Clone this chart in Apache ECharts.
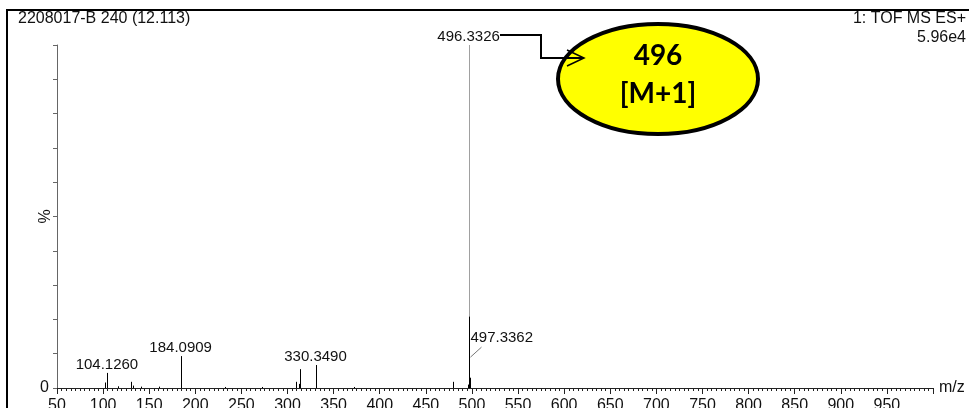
<!DOCTYPE html>
<html><head><meta charset="utf-8">
<script src="https://cdn.jsdelivr.net/npm/echarts@6/dist/echarts.min.js"></script>
<style>html,body{margin:0;padding:0;background:#fff}#c{width:969px;height:408px}</style>
</head><body><div id="c"></div>
<script>
// ---- data ----
const mzValues        = [102.0, 104.1260, 116.0, 130.1, 132.2, 141.0, 160.1, 184.0909, 232.0, 272.0, 309.6, 312.3, 313.3, 330.3490, 372.0, 479.3, 495.3, 496.3326, 496.7, 497.3362, 498.34];
const intensityValues = [1.6,   4.4,      0.5,   1.8,   0.7,   0.4,   0.4,   9.3,      0.3,   0.3,   1.8,   1.2,   5.5,   6.7,      0.3,   1.8,   1.0,   100,      20.8,  9.0,      3.0];
const labelledMz      = [104.1260, 184.0909, 330.3490, 496.3326, 497.3362];
const headerLeft      = '2208017-B 240 (12.113)';
const headerRight     = ['1: TOF MS ES+', '5.96e4'];
const calloutText     = ['496', '[M+1]'];
const xAxisTitle      = 'm/z';
const yAxisTitle      = '%';

const peakData = mzValues.map((m, i) => [m, intensityValues[i]]);
const labelData = labelledMz.map(m => [m, intensityValues[mzValues.indexOf(m)]]);
const basePeak = Math.max(...intensityValues);

const chart = echarts.init(document.getElementById('c'));
const font = '"Liberation Sans", Arial, sans-serif';

chart.setOption({
  animation: false,
  backgroundColor: '#fff',
  grid: {left: 57, right: 36, top: 45, bottom: 20, containLabel: false, outerBoundsMode: 'none'},
  xAxis: {
    type: 'value', min: 50, max: 1000, interval: 50,
    name: xAxisTitle, nameLocation: 'end', nameGap: 6, nameMoveOverlap: false,
    nameTextStyle: {fontFamily: font, fontSize: 16, color: '#111', verticalAlign: 'middle'},
    axisLine: {lineStyle: {color: '#222', width: 1}},
    axisTick: {show: true, length: 6, lineStyle: {color: '#222'}},
    minorTick: {show: true, splitNumber: 10, length: 3, lineStyle: {color: '#222'}},
    splitLine: {show: false},
    axisLabel: {fontFamily: font, fontSize: 16, color: '#111', margin: 10, showMaxLabel: false, hideOverlap: false,
      formatter: v => v >= 1000 ? '' : String(v)}
  },
  yAxis: {
    type: 'value', min: 0, max: 100, interval: 10,
    name: yAxisTitle, nameLocation: 'middle', nameRotate: 90, nameGap: 3, nameMoveOverlap: false,
    nameTextStyle: {fontFamily: font, fontSize: 16, color: '#111'},
    axisLine: {show: true, lineStyle: {color: '#666', width: 1}},
    axisTick: {show: true, length: 4, lineStyle: {color: '#666'}},
    splitLine: {show: false},
    axisLabel: {fontFamily: font, fontSize: 16, color: '#111', margin: 8,
      formatter: v => v === 0 ? '0' : ''}
  },
  series: [
    {
      type: 'custom', data: peakData, clip: false,
      renderItem(params, api) {
        const x = api.value(0), y = api.value(1);
        const p0 = api.coord([x, 0]), p1 = api.coord([x, y]);
        const px = Math.round(p0[0]) + 0.5;
        return {type: 'line', shape: {x1: px, y1: p0[1], x2: px, y2: p1[1]},
          style: {stroke: y === basePeak ? '#a0a0a0' : '#000', lineWidth: 1}};
      }
    },
    {
      type: 'custom', data: labelData, clip: false,
      renderItem(params, api) {
        const x = api.value(0), y = api.value(1);
        const p = api.coord([x, y]);
        const txt = x.toFixed(4);
        if (params.dataIndex === labelData.length - 1) {
          return {type: 'group', children: [
            {type: 'line', shape: {x1: p[0] + 1, y1: p[1], x2: p[0] + 12, y2: p[1] - 10},
              style: {stroke: '#777', lineWidth: 1}},
            {type: 'text', x: p[0] + 1, y: p[1] - 19,
              style: {text: txt, font: '15px ' + font, fill: '#111', textAlign: 'left', textVerticalAlign: 'middle'}}
          ]};
        }
        return {type: 'text', x: p[0], y: p[1] - 8,
          style: {text: txt, font: '15px ' + font, fill: '#111', textAlign: 'center', textVerticalAlign: 'middle'}};
      }
    }
  ],
  graphic: [
    {type: 'rect', shape: {x: 7, y: 10, width: 1000, height: 500},
      style: {fill: 'none', stroke: '#000', lineWidth: 2}, silent: true},
    {type: 'text', x: 18, y: 19,
      style: {text: headerLeft, font: '16px ' + font, fill: '#111', textAlign: 'left', textVerticalAlign: 'middle'}},
    {type: 'text', x: 966, y: 19,
      style: {text: headerRight[0], font: '16px ' + font, fill: '#111', textAlign: 'right', textVerticalAlign: 'middle'}},
    {type: 'text', x: 966, y: 38,
      style: {text: headerRight[1], font: '16px ' + font, fill: '#111', textAlign: 'right', textVerticalAlign: 'middle'}},
    {type: 'ellipse', shape: {cx: 658, cy: 79, rx: 100, ry: 55},
      style: {fill: '#FFFF00', stroke: '#000', lineWidth: 4}},
    {type: 'polyline', shape: {points: [[500, 35], [541, 35], [541, 58], [583, 58]]},
      style: {stroke: '#000', lineWidth: 2, fill: 'none'}},
    {type: 'polyline', shape: {points: [[567, 50], [584, 58], [567, 66]]},
      style: {stroke: '#000', lineWidth: 1.5, fill: 'none'}},
    {type: 'text', x: 658, y: 56,
      style: {text: calloutText[0], font: 'bold 28px Lato, "Open Sans", sans-serif', fill: '#000', textAlign: 'center', textVerticalAlign: 'middle'}},
    {type: 'text', x: 658, y: 94,
      style: {text: calloutText[1], font: 'bold 28px Lato, "Open Sans", sans-serif', fill: '#000', textAlign: 'center', textVerticalAlign: 'middle'}}
  ]
});
</script>
</body></html>
